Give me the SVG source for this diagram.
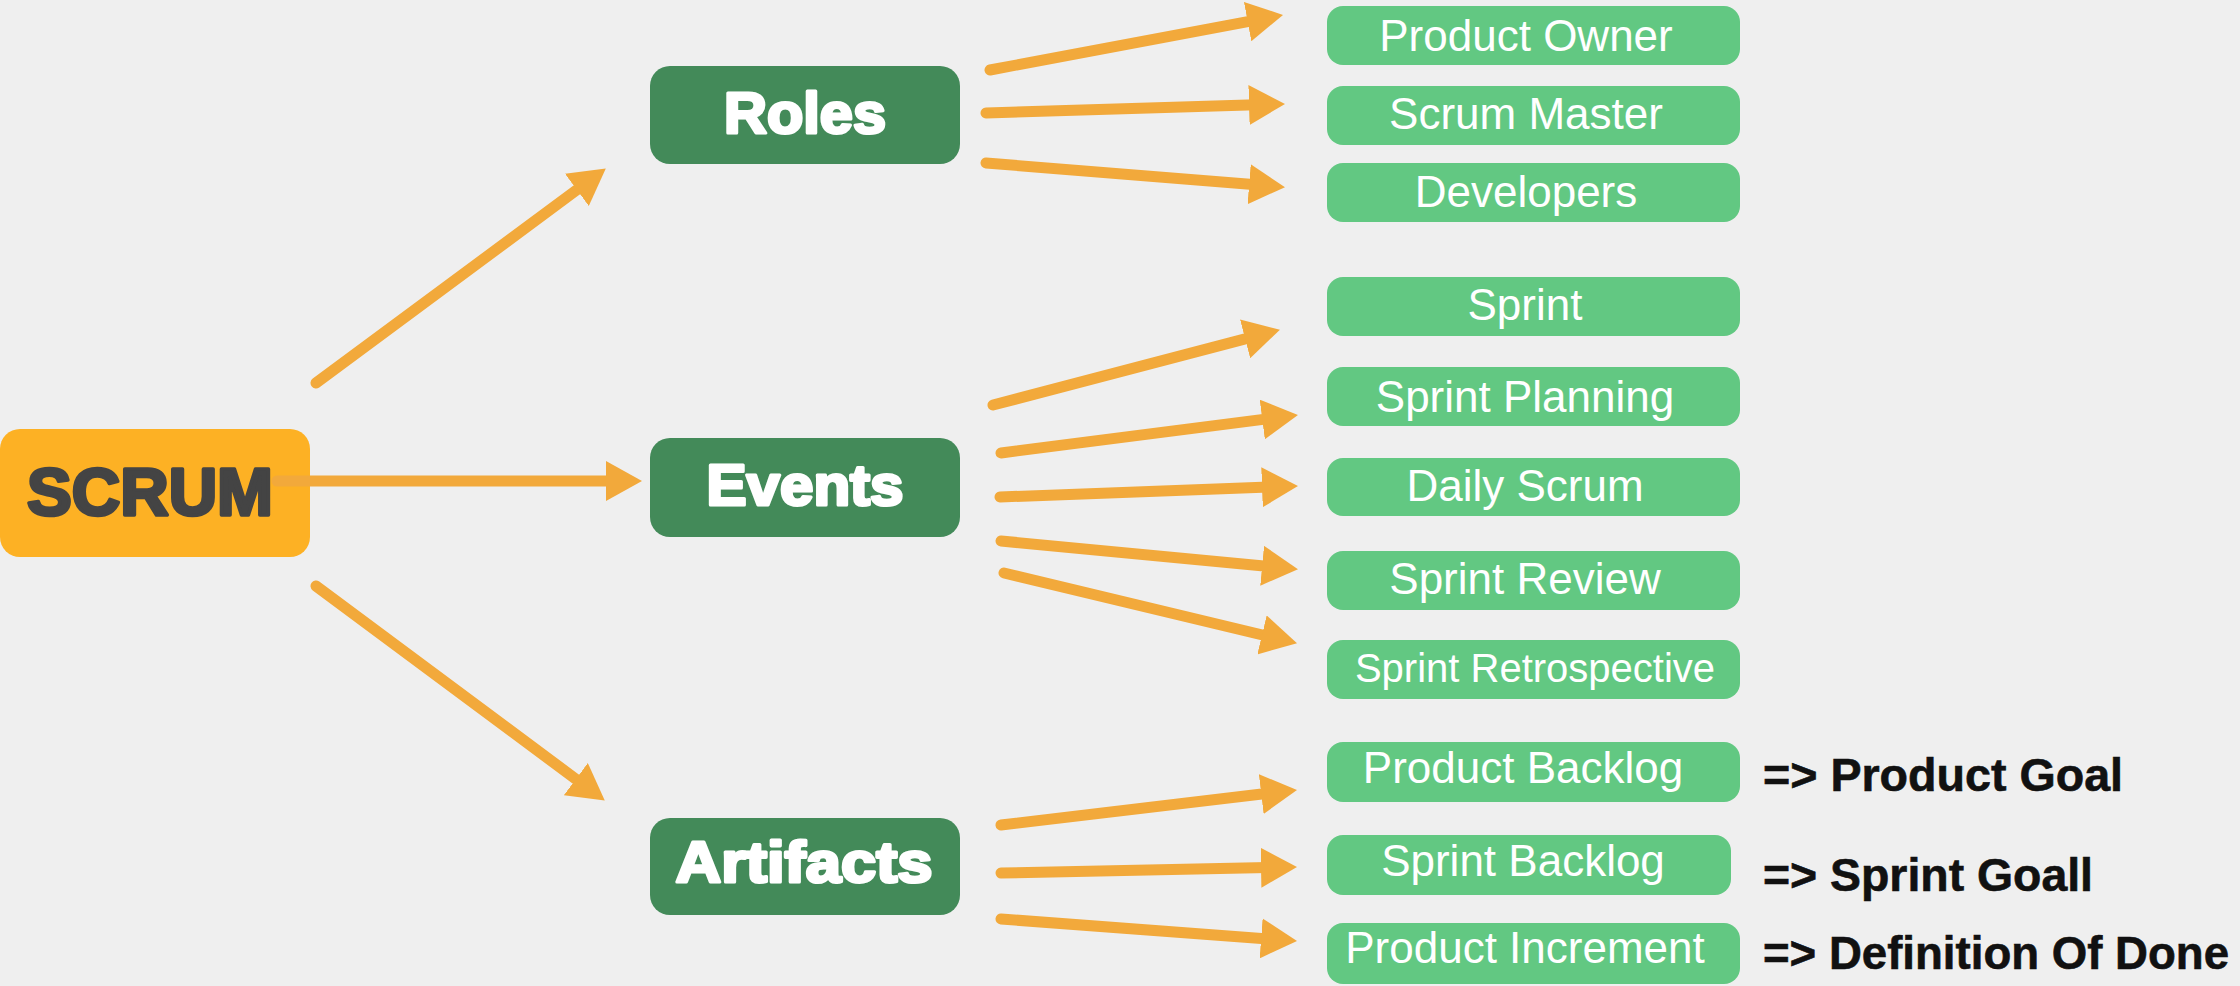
<svg xmlns="http://www.w3.org/2000/svg" width="2240" height="986" viewBox="0 0 2240 986">
<style>
.bg{fill:#efefef}
.root{fill:#fdb124}
.cat{fill:#438a59}
.leaf{fill:#62c882}
.rootT{font-family:"Liberation Sans",Arial,sans-serif;font-weight:bold;font-size:66px;fill:#444444;stroke:#444444;stroke-width:3.5;stroke-linejoin:round}
.catT{font-family:"Liberation Sans",Arial,sans-serif;font-weight:bold;font-size:58px;fill:#ffffff;stroke:#ffffff;stroke-width:3.2;stroke-linejoin:round;text-anchor:middle}
.leafT{font-family:"Liberation Sans",Arial,sans-serif;font-size:44px;fill:#ffffff;text-anchor:middle}
.side{font-family:"Liberation Sans",Arial,sans-serif;font-weight:bold;font-size:46px;fill:#111111;stroke:#111111;stroke-width:0.6}
.conn line{stroke:#f2a93b;stroke-width:11;stroke-linecap:round;marker-end:url(#ah)}
</style>
<defs>
<marker id="ah" markerUnits="userSpaceOnUse" markerWidth="36" markerHeight="40" viewBox="0 0 36 40" refX="7" refY="20" orient="auto">
<path d="M0,0 L36,20 L0,40 z" fill="#f2a93b"/>
</marker>
</defs>
<rect class="bg" x="0" y="0" width="2240" height="986"/>

<g id="scrum">
<rect class="root" x="0" y="429" width="310" height="128" rx="20"/>
<text class="rootT" x="27" y="515" textLength="246" lengthAdjust="spacingAndGlyphs">SCRUM</text>
</g>

<g id="roles">
<rect class="cat" x="650" y="66" width="310" height="98" rx="20"/>
<text class="catT" x="805" y="133" textLength="162" lengthAdjust="spacingAndGlyphs">Roles</text>
</g>
<g id="events">
<rect class="cat" x="650" y="438" width="310" height="99" rx="20"/>
<text class="catT" x="805" y="505" textLength="197" lengthAdjust="spacingAndGlyphs">Events</text>
</g>
<g id="artifacts">
<rect class="cat" x="650" y="818" width="310" height="97" rx="20"/>
<text class="catT" x="804" y="882" textLength="257" lengthAdjust="spacingAndGlyphs">Artifacts</text>
</g>

<g id="product-owner">
<rect class="leaf" x="1327" y="6" width="413" height="59" rx="16"/>
<text class="leafT" x="1526" y="51">Product Owner</text>
</g>
<g id="scrum-master">
<rect class="leaf" x="1327" y="86" width="413" height="59" rx="16"/>
<text class="leafT" x="1526" y="129">Scrum Master</text>
</g>
<g id="developers">
<rect class="leaf" x="1327" y="163" width="413" height="59" rx="16"/>
<text class="leafT" x="1526" y="207">Developers</text>
</g>
<g id="sprint">
<rect class="leaf" x="1327" y="277" width="413" height="59" rx="16"/>
<text class="leafT" x="1525" y="320">Sprint</text>
</g>
<g id="sprint-planning">
<rect class="leaf" x="1327" y="367" width="413" height="59" rx="16"/>
<text class="leafT" x="1525" y="412">Sprint Planning</text>
</g>
<g id="daily-scrum">
<rect class="leaf" x="1327" y="458" width="413" height="58" rx="16"/>
<text class="leafT" x="1525" y="501">Daily Scrum</text>
</g>
<g id="sprint-review">
<rect class="leaf" x="1327" y="551" width="413" height="59" rx="16"/>
<text class="leafT" x="1525" y="594">Sprint Review</text>
</g>
<g id="sprint-retrospective">
<rect class="leaf" x="1327" y="640" width="413" height="59" rx="16"/>
<text class="leafT" x="1535" y="682" style="font-size:40px">Sprint Retrospective</text>
</g>
<g id="product-backlog">
<rect class="leaf" x="1327" y="742" width="413" height="60" rx="16"/>
<text class="leafT" x="1523" y="783">Product Backlog</text>
<text class="side" x="1763" y="791" textLength="360" lengthAdjust="spacingAndGlyphs">=&gt; Product Goal</text>
</g>
<g id="sprint-backlog">
<rect class="leaf" x="1327" y="835" width="404" height="60" rx="16"/>
<text class="leafT" x="1523" y="876">Sprint Backlog</text>
<text class="side" x="1763" y="891" textLength="330" lengthAdjust="spacingAndGlyphs">=&gt; Sprint Goall</text>
</g>
<g id="product-increment">
<rect class="leaf" x="1327" y="923" width="413" height="61" rx="16"/>
<text class="leafT" x="1525" y="963">Product Increment</text>
<text class="side" x="1763" y="969" textLength="466" lengthAdjust="spacingAndGlyphs">=&gt; Definition Of Done</text>
</g>

<g id="connectors" class="conn">
<line x1="316" y1="383" x2="582.5" y2="185.7"/>
<line x1="277" y1="481" x2="613" y2="481"/>
<line x1="316" y1="586" x2="581.5" y2="783.3"/>
<line x1="990" y1="70" x2="1254.5" y2="20.3"/>
<line x1="986" y1="113" x2="1256" y2="104.8"/>
<line x1="986" y1="163" x2="1256.1" y2="184.8"/>
<line x1="993" y1="405" x2="1251.9" y2="337.1"/>
<line x1="1001" y1="453" x2="1269.2" y2="418.6"/>
<line x1="1000" y1="497" x2="1269" y2="487"/>
<line x1="1001" y1="541" x2="1269.1" y2="566.4"/>
<line x1="1004" y1="573" x2="1268.8" y2="636.5"/>
<line x1="1001" y1="825" x2="1268.2" y2="793.3"/>
<line x1="1001" y1="873" x2="1268" y2="867.6"/>
<line x1="1001" y1="919" x2="1268.1" y2="938.9"/>
</g>
</svg>
